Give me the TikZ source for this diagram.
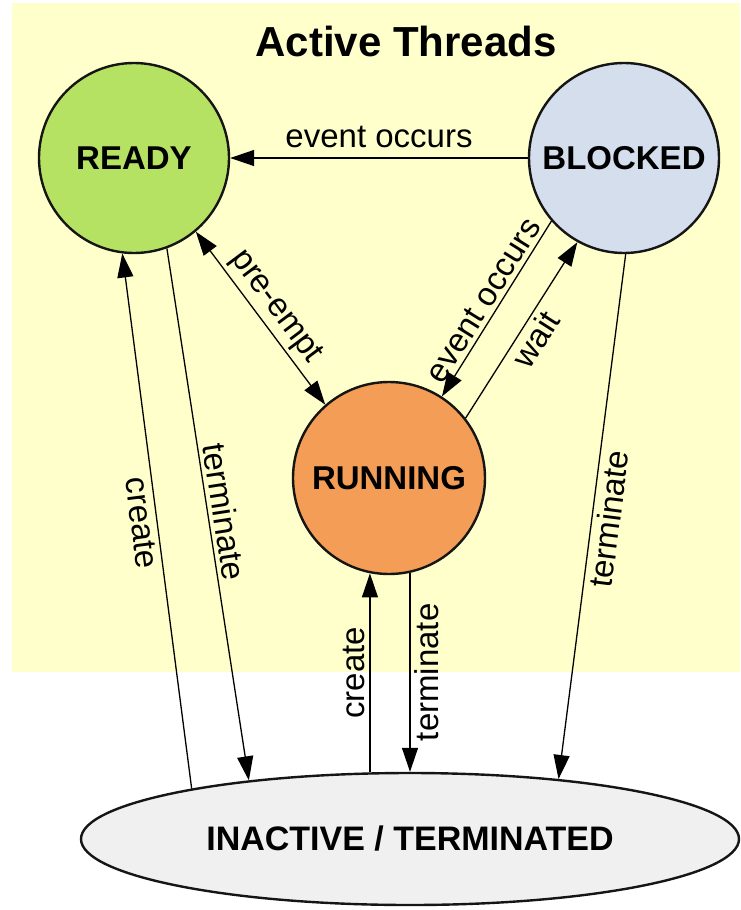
\documentclass[tikz,border=0pt]{standalone}
\usepackage{fontspec}
\setmainfont{Liberation Sans}
\usetikzlibrary{arrows.meta,shapes.geometric}

\definecolor{bgyellow}{HTML}{FFFFCC}
\definecolor{readygreen}{HTML}{B6E264}
\definecolor{blockedblue}{HTML}{D4DEEC}
\definecolor{runorange}{HTML}{F39D56}
\definecolor{inactivegrey}{HTML}{F0F0F0}
\definecolor{outline}{HTML}{151515}

\tikzset{
  state/.style={circle, draw=outline, line width=2.4pt, minimum size=190pt,
    inner sep=0pt, font=\bfseries\fontsize{33}{39}\selectfont},
  conn/.style={line width=1.3pt, draw=black},
  lbl/.style={font=\fontsize{33}{39}\selectfont, inner sep=4pt},
  >={Triangle[length=24pt,width=16pt]},
}

\begin{document}
\begin{tikzpicture}[x=1pt,y=-1pt]
  \useasboundingbox (0,0) rectangle (740,910);
  % region of the active thread states
  \fill[bgyellow] (12,3) rectangle (740,672);

  \node[font=\bfseries\fontsize{42}{50}\selectfont] (title) at (406,41) {Active Threads};

  % states
  \node[state, fill=readygreen]   (ready)   at (134,158) {READY};
  \node[state, fill=blockedblue]  (blocked) at (624,158) {BLOCKED};
  \node[state, fill=runorange, minimum size=192pt] (running) at (389,478) {RUNNING};
  \node[ellipse, draw=outline, fill=inactivegrey, line width=2.4pt,
        minimum width=658pt, minimum height=132pt, inner sep=0pt,
        font=\bfseries\fontsize{34}{40}\selectfont]
        (inactive) at (410,839) {INACTIVE / TERMINATED};

  % transitions between active states
  \draw[conn,->] (blocked.180) -- node[lbl, above, inner sep=10pt] {event occurs} (ready.0);
  \draw[conn,<->] (ready.-50) -- node[lbl, sloped, above] {pre-empt} (running.131);
  \draw[conn,->] (blocked.221) -- node[lbl, sloped, above] {event occurs} (running.57);
  \draw[conn,->] (running.38) -- node[lbl, sloped, below] {wait} (blocked.241);

  % creation and termination
  \draw[conn,<-] (ready.263) -- node[lbl, sloped, below] {create} (inactive.167);
  \draw[conn,->] (ready.-70) -- node[lbl, sloped, above] {terminate} (inactive.160.8);
  \draw[conn,->] (inactive.121.4) -- node[lbl, rotate=90, above] {create}
        (inactive.121.4 |- running.-101.4);
  \draw[conn,<-] (inactive.90) -- node[lbl, rotate=90, below] {terminate}
        (inactive.90 |- running.-77.4);
  \draw[conn,<-] (inactive.22) -- node[lbl, sloped, below] {terminate} (blocked.-89);
\end{tikzpicture}
\end{document}
